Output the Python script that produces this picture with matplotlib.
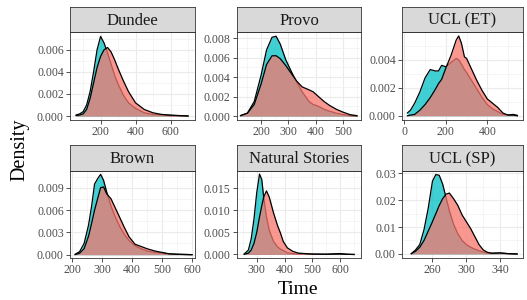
import numpy as np
import matplotlib
matplotlib.use("Agg")
import matplotlib.pyplot as plt
from matplotlib.ticker import FixedLocator, AutoMinorLocator, FormatStrFormatter

plt.rcParams['font.family'] = ['Liberation Serif', 'DejaVu Serif']

# ---- data (density curves, two groups per corpus) ----
panel_names = ["Dundee", "Provo", "UCL (ET)", "Brown", "Natural Stories", "UCL (SP)"]

dundee_x = [60, 80, 100, 120, 140, 160, 180, 200, 220, 240, 260, 280, 300, 330,
            360, 400, 450, 500, 550, 600, 650, 700]
dundee_a = [0.0001, 0.0002, 0.0004, 0.0010, 0.0022, 0.0040, 0.0060, 0.0072, 0.0066,
            0.0057, 0.0047, 0.0037, 0.0029, 0.0019, 0.0012, 0.0007, 0.0003, 0.00015,
            0.0001, 0.00005, 0.00003, 0.0]
dundee_b = [0.00005, 0.0001, 0.0002, 0.0006, 0.0016, 0.0030, 0.0044, 0.0054, 0.0060,
            0.0062, 0.0058, 0.0051, 0.0043, 0.0032, 0.0022, 0.0012, 0.0006, 0.0003,
            0.00015, 0.0001, 0.00005, 0.00002]

provo_x = [125, 150, 175, 200, 220, 240, 255, 270, 290, 310, 330, 350, 375, 390,
           410, 430, 450, 475, 500, 525, 550]
provo_a = [0.00005, 0.0003, 0.0015, 0.0042, 0.0068, 0.0081, 0.0082, 0.0074, 0.0058,
           0.0046, 0.0035, 0.0025, 0.0015, 0.0012, 0.0010, 0.0007, 0.0005, 0.0003,
           0.00015, 0.00005, 0.0]
provo_b = [0.00005, 0.0003, 0.0012, 0.0033, 0.0053, 0.0062, 0.0062, 0.0059, 0.0052,
           0.0044, 0.0036, 0.0030, 0.0027, 0.0025, 0.0020, 0.0015, 0.0011, 0.0007,
           0.0004, 0.00015, 0.00005]

uclet_x = [15, 30, 50, 75, 100, 125, 150, 165, 180, 200, 225, 250, 262, 275, 290,
           300, 325, 350, 375, 400, 425, 450, 475, 500, 525, 545]
uclet_a = [0.0002, 0.0004, 0.0009, 0.0017, 0.0027, 0.0033, 0.0032, 0.0032, 0.0036,
           0.0035, 0.0038, 0.0041, 0.0040, 0.0037, 0.0033, 0.0031, 0.0025, 0.0019,
           0.0013, 0.0008, 0.0005, 0.0003, 0.0001, 0.00005, 0.0001, 0.00003]
uclet_b = [0.0, 0.00005, 0.0001, 0.0004, 0.0008, 0.0013, 0.0019, 0.0023, 0.0026,
           0.0034, 0.0043, 0.0054, 0.0057, 0.0052, 0.0042, 0.0041, 0.0033, 0.0025,
           0.0018, 0.0012, 0.0009, 0.0006, 0.0002, 0.00005, 0.00005, 0.0]

brown_x = [210, 225, 240, 255, 265, 275, 285, 295, 305, 315, 330, 345, 360, 375,
           390, 410, 430, 450, 475, 500, 525, 550, 575, 600]
brown_a = [0.00005, 0.0004, 0.0015, 0.0040, 0.0065, 0.0095, 0.0102, 0.0108, 0.0100,
           0.0085, 0.0065, 0.0050, 0.0037, 0.0027, 0.0019, 0.0012, 0.0008, 0.0005,
           0.0003, 0.0002, 0.0001, 0.00005, 0.00003, 0.0]
brown_b = [0.0, 0.0002, 0.0008, 0.0025, 0.0042, 0.0060, 0.0075, 0.0090, 0.0091,
           0.0082, 0.0075, 0.0062, 0.0049, 0.0036, 0.0024, 0.0014, 0.0011, 0.0008,
           0.0005, 0.0003, 0.0001, 0.00005, 0.00002, 0.0]

nat_x = [255, 270, 280, 290, 300, 310, 318, 325, 335, 345, 360, 375, 385, 395,
         410, 430, 450, 500, 550, 600, 625, 650]
nat_a = [0.0001, 0.0010, 0.0035, 0.0080, 0.0140, 0.0182, 0.0170, 0.0130, 0.0085,
         0.0055, 0.0030, 0.0017, 0.0012, 0.0009, 0.0004, 0.0002, 0.0001, 0.00005,
         0.00005, 0.0002, 0.00005, 0.0]
nat_b = [0.00005, 0.0003, 0.0010, 0.0025, 0.0050, 0.0085, 0.0110, 0.0130, 0.0144,
         0.0130, 0.0095, 0.0065, 0.0049, 0.0030, 0.0015, 0.0007, 0.0003, 0.0001,
         0.00005, 0.0001, 0.00003, 0.0]

uclsp_x = [235, 240, 245, 250, 255, 260, 264, 268, 272, 276, 280, 285, 290, 295,
           300, 305, 310, 315, 320, 325, 330, 340, 350, 360]
uclsp_a = [0.0001, 0.0015, 0.0035, 0.0090, 0.0170, 0.0270, 0.0295, 0.0292, 0.0260,
           0.0210, 0.0160, 0.0110, 0.0075, 0.0050, 0.0035, 0.0025, 0.0018, 0.0012,
           0.0007, 0.0003, 0.0002, 0.0003, 0.0001, 0.0]
uclsp_b = [0.0001, 0.0010, 0.0025, 0.0050, 0.0085, 0.0120, 0.0150, 0.0180, 0.0205,
           0.0222, 0.0226, 0.0205, 0.0180, 0.0145, 0.0120, 0.0095, 0.0065, 0.0035,
           0.0015, 0.0006, 0.0003, 0.0004, 0.0001, 0.0]

curves = [
    (dundee_x, dundee_a, dundee_b),
    (provo_x, provo_a, provo_b),
    (uclet_x, uclet_a, uclet_b),
    (brown_x, brown_a, brown_b),
    (nat_x, nat_a, nat_b),
    (uclsp_x, uclsp_a, uclsp_b),
]

x_ticks = [[200, 400, 600], [200, 300, 400, 500], [0, 200, 400],
           [200, 300, 400, 500, 600], [300, 400, 500, 600], [260, 300, 340]]
y_ticks = [[0, 0.002, 0.004, 0.006], [0, 0.002, 0.004, 0.006, 0.008], [0, 0.002, 0.004],
           [0, 0.003, 0.006, 0.009], [0, 0.005, 0.010, 0.015], [0, 0.01, 0.02, 0.03]]
y_fmt = ["%.3f", "%.3f", "%.3f", "%.3f", "%.3f", "%.2f"]

# ---- layout (pixels) ----
W, H = 527, 300
x_lims = [(25, 740), (112, 565), (-11, 572), (193, 610), (229, 675), (224, 367)]
y_lims = [(-0.00035, 0.0076), (-0.0004, 0.00864), (-0.0003, 0.00598),
          (-0.00045, 0.01125), (-0.0008, 0.0189), (-0.0015, 0.0308)]
cols = [(70, 195), (237, 361), (402, 523)]
rows = [(7, 32, 120), (145, 171, 258)]  # strip top, panel top, panel bottom

COL_A = "#00BFC4"
COL_B = "#F8766D"
EDGE = "#333333"

fig = plt.figure(figsize=(W / 100, H / 100), dpi=100)

for i, name in enumerate(panel_names):
    r, c = divmod(i, 3)
    x0, x1 = cols[c]
    st, pt, pb = rows[r]
    ax = fig.add_axes([x0 / W, 1 - pb / H, (x1 - x0) / W, (pb - pt) / H])
    sx = fig.add_axes([x0 / W, 1 - pt / H, (x1 - x0) / W, (pt - st) / H])

    xs, ya, yb = curves[i]
    ax.fill_between(xs, 0, ya, color=COL_A, alpha=0.75, lw=0, zorder=2)
    ax.plot(xs, ya, color="black", lw=0.9, zorder=3)
    ax.fill_between(xs, 0, yb, color=COL_B, alpha=0.75, lw=0, zorder=4)
    ax.plot(xs, yb, color="black", lw=0.9, zorder=5)

    ax.set_xlim(*x_lims[i])
    ax.set_ylim(*y_lims[i])
    ax.xaxis.set_major_locator(FixedLocator(x_ticks[i]))
    ax.yaxis.set_major_locator(FixedLocator(y_ticks[i]))
    ax.xaxis.set_minor_locator(AutoMinorLocator(2))
    ax.yaxis.set_minor_locator(AutoMinorLocator(2))
    ax.yaxis.set_major_formatter(FormatStrFormatter(y_fmt[i]))
    ax.grid(which="major", color="#EBEBEB", lw=0.8, zorder=0)
    ax.grid(which="minor", color="#F2F2F2", lw=0.5, zorder=0)
    ax.set_axisbelow(True)
    ax.tick_params(which="major", length=3, width=0.6, color=EDGE,
                   labelsize=8.5, labelcolor="#4D4D4D", pad=1.5)
    ax.tick_params(which="minor", length=0)
    for sp in ax.spines.values():
        sp.set_color(EDGE)
        sp.set_linewidth(0.6)

    sx.set_facecolor("#D9D9D9")
    sx.set_xticks([])
    sx.set_yticks([])
    for sp in sx.spines.values():
        sp.set_color(EDGE)
        sp.set_linewidth(0.6)
    sx.text(0.5, 0.45, name, transform=sx.transAxes, ha="center", va="center",
            fontsize=12, color="#1A1A1A")

fig.text(20 / W, 1 - 150 / H, "Density", rotation=90, ha="center", va="center",
         fontsize=14.5)
fig.text(298 / W, 1 - 289 / H, "Time", ha="center", va="center", fontsize=14)

fig.savefig("out.png", dpi=100)
